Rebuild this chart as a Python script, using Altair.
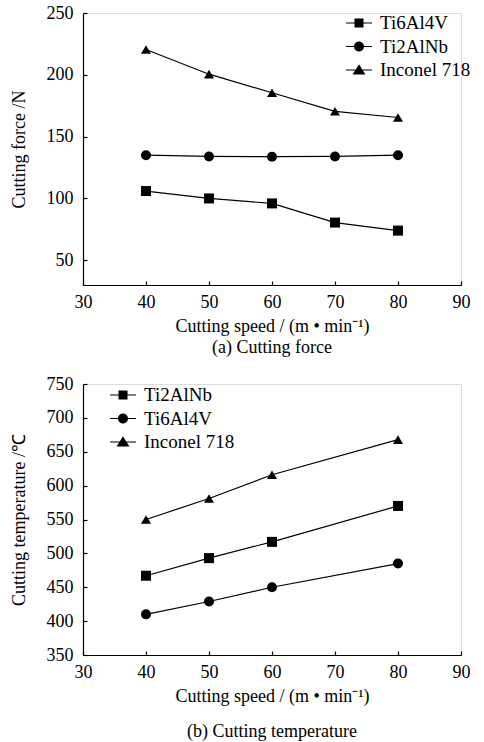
import altair as alt
import pandas as pd

# ---- data ----
force_materials = ["Ti6Al4V", "Ti2AlNb", "Inconel 718"]
force_speed = [40, 50, 60, 70, 80]
force_ti6al4v = [106, 100, 96, 80.5, 74]
force_ti2alnb = [135, 134, 133.8, 134, 135]
force_inconel = [220.5, 200.5, 185.5, 170.5, 165.5]

temp_materials = ["Ti2AlNb", "Ti6Al4V", "Inconel 718"]
temp_speed = [40, 50, 60, 80]
temp_ti2alnb = [467, 493, 517, 570]
temp_ti6al4v = [410, 429, 450, 485]
temp_inconel = [550, 581, 616, 668]

x_ticks = [30, 40, 50, 60, 70, 80, 90]
force_ticks = [50, 100, 150, 200, 250]
temp_ticks = [350, 400, 450, 500, 550, 600, 650, 700, 750]

FONT = "Liberation Serif"
LEGEND_FONT = "'Liberation Serif', serif"
FS = 18
LEGEND_FS = 19

force_df = pd.DataFrame({
    "speed": force_speed * 3,
    "value": force_ti6al4v + force_ti2alnb + force_inconel,
    "material": sum([[m] * len(force_speed) for m in force_materials], []),
})
temp_df = pd.DataFrame({
    "speed": temp_speed * 3,
    "value": temp_ti2alnb + temp_ti6al4v + temp_inconel,
    "material": sum([[m] * len(temp_speed) for m in temp_materials], []),
})

point_shapes = ["square", "circle", "triangle-up"]
point_sizes = [100, 100, 165]
# legend glyphs: a thin bar (the line) plus the filled marker, all wound clockwise
BAR = "M-1.3,-0.06L1.3,-0.06L1.3,0.06L-1.3,0.06Z"
legend_paths = [
    BAR + "M-0.45,-0.45L0.45,-0.45L0.45,0.45L-0.45,0.45Z",
    BAR + "M0.5,0A0.5,0.5,0,1,1,-0.5,0A0.5,0.5,0,1,1,0.5,0Z",
    BAR + "M0,-0.58L0.64,0.45L-0.64,0.45Z",
]

axis_style = dict(
    grid=False, domainColor="black", domainWidth=1.2, tickColor="black", tickWidth=1.2,
    tickSize={"expr": "-4"}, labelColor="black", titleColor="black",
    labelFont=FONT, titleFont=FONT, labelFontSize=FS, titleFontSize=FS,
    titleFontWeight="normal", labelFontWeight="normal", labelFlush=False,
)


def panel(df, order, ydomain, yticks, ytitle, caption, h, lx, ly, cap_offset):
    x = alt.X("speed:Q", scale=alt.Scale(domain=[30, 90], nice=False),
              axis=alt.Axis(values=x_ticks, title="Cutting speed / (m • min⁻¹)",
                            labelPadding=12, titlePadding=6, **axis_style))
    y = alt.Y("value:Q", scale=alt.Scale(domain=ydomain, nice=False, zero=False),
              axis=alt.Axis(values=yticks, title=ytitle, labelPadding=14, titlePadding=18,
                            **axis_style))
    base = alt.Chart(df)
    lines = base.mark_line(color="black", strokeWidth=1.2).encode(
        x=x, y=y, detail="material:N")
    pts = base.mark_point(filled=True, color="black", opacity=1).encode(
        x=x, y=y,
        shape=alt.Shape("material:N", scale=alt.Scale(domain=order, range=point_shapes), legend=None),
        size=alt.Size("material:O", scale=alt.Scale(domain=order, range=point_sizes), legend=None),
    )
    leg = base.transform_filter("false").mark_point(
        filled=True, color="black").encode(
        x=x, y=y,
        shape=alt.Shape("material:N", scale=alt.Scale(domain=order, range=legend_paths),
                        legend=alt.Legend(title=None, orient="none", legendX=lx, legendY=ly,
                                          symbolSize=400, symbolStrokeWidth=0,
                                          symbolFillColor="black", symbolOpacity=1,
                                          labelFont=LEGEND_FONT, labelFontSize=LEGEND_FS,
                                          labelColor="black", labelFontWeight="normal",
                                          labelOffset=11, rowPadding=3.5, padding=0)),
    )
    return alt.layer(lines, pts, leg).resolve_scale(shape="independent", size="independent").properties(
        width=378, height=h,
        title=alt.TitleParams(caption, orient="bottom", frame="group", anchor="middle",
                              offset=cap_offset, font=FONT, fontSize=FS, fontWeight="normal",
                              color="black"),
    )


top = panel(force_df, force_materials, [30, 250], force_ticks, "Cutting force /N",
            "(a) Cutting force", 272, 266, 0, 4)
bottom = panel(temp_df, temp_materials, [350, 750], temp_ticks, "Cutting temperature /℃",
               "(b) Cutting temperature", 271, 30, 1, 18)

chart = alt.vconcat(top, bottom, spacing=16).properties(
    padding={"left": 9, "top": 3, "right": 0, "bottom": 0}
).configure_legend(
    labelFont=LEGEND_FONT, labelFontSize=LEGEND_FS, labelColor="black"
).configure_view(stroke=None).configure(background="white")

chart.save("out.html", embed_options={"renderer": "svg", "actions": False})
